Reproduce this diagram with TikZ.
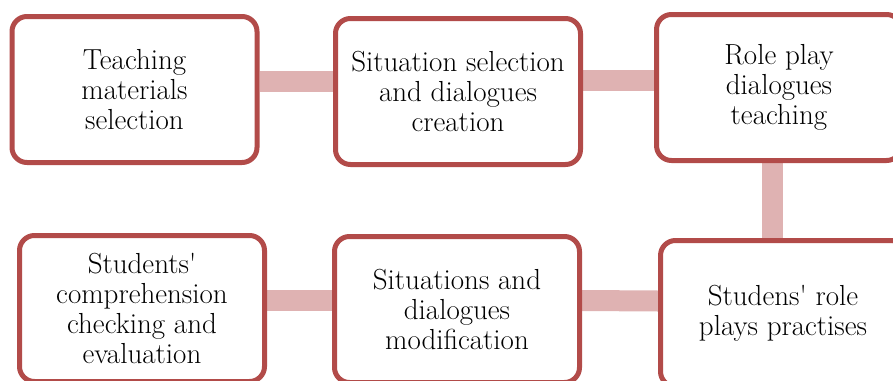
\documentclass[tikz,border=0pt]{standalone}
\usepackage{fontspec}
\usetikzlibrary{backgrounds}
\definecolor{boxred}{HTML}{B24B49}
\definecolor{barpink}{HTML}{DFB2B2}
\begin{document}
\begin{tikzpicture}[x=1pt,y=-1pt,
  stepbox/.style={draw=boxred, line width=5pt, fill=white, rounded corners=15pt,
    minimum width=245pt, minimum height=146pt, inner sep=0pt, align=center,
    font=\rmfamily\fontsize{29}{30}\selectfont},
  bar/.style={draw=barpink, line width=21pt}]
\useasboundingbox (0,0) rectangle (893,380);
\node[stepbox] (b1) at (134.5,89.5) {Teaching\\materials\\selection};
\node[stepbox] (b2) at (458,91.5) {Situation selection\\and dialogues\\creation};
\node[stepbox] (b3) at (779,87.5) {Role play\\dialogues\\teaching};
\node[stepbox] (b4) at (142,308.5) {Students\textquotesingle\\comprehension\\checking and\\evaluation};
\node[stepbox] (b5) at (457,309.5) {Situations and\\dialogues\\modification};
\node[stepbox] (b6) at (783,313.5) {Studens\textquotesingle{} role\\plays practises};
\begin{scope}[on background layer]
\draw[bar] ([yshift=8.5pt]b1.east) -- ([yshift=10.5pt]b2.west);
\draw[bar] ([yshift=11.5pt]b2.east) -- ([yshift=7.5pt]b3.west);
\draw[bar] ([xshift=-7pt]b3.south) -- ([xshift=-11pt]b6.north);
\draw[bar] ([yshift=12.5pt]b6.west) -- ([yshift=9pt]b5.east);
\draw[bar] ([yshift=9pt]b5.west) -- ([yshift=8pt]b4.east);
\end{scope}
\end{tikzpicture}
\end{document}
